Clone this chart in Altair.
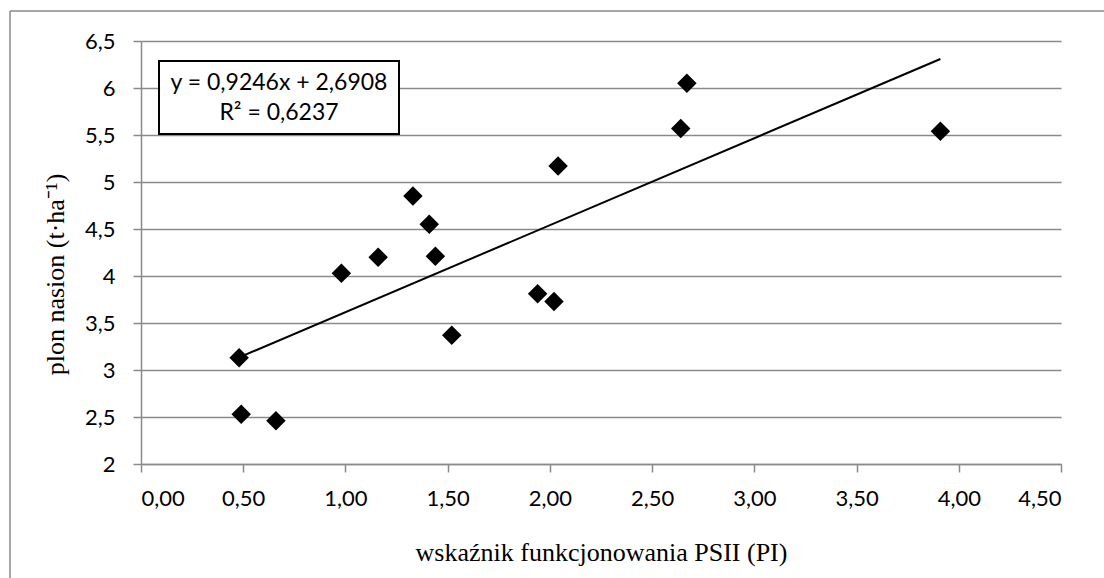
import altair as alt
import pandas as pd

# data
pi_values = [0.48, 0.49, 0.66, 0.98, 1.16, 1.33, 1.41, 1.44, 1.52, 1.94, 2.02, 2.04, 2.64, 2.67, 3.91]
yield_values = [3.13, 2.53, 2.46, 4.03, 4.20, 4.85, 4.55, 4.21, 3.37, 3.81, 3.73, 5.17, 5.57, 6.05, 5.54]
x_ticks = [0, 0.5, 1, 1.5, 2, 2.5, 3, 3.5, 4, 4.5]
y_ticks = [2, 2.5, 3, 3.5, 4, 4.5, 5, 5.5, 6, 6.5]
equation_lines = ["y = 0,9246x + 2,6908", "R² = 0,6237"]

df = pd.DataFrame({"x": pi_values, "y": yield_values})
one = pd.DataFrame({"a": [0]})

GRID = "#8a8a8a"
TICKFONT = "Lato"
SERIF = "Liberation Serif"

xs = alt.Scale(domain=[0, 4.5], nice=False, zero=False)
ys = alt.Scale(domain=[2, 6.5], nice=False, zero=False)

x_axis = alt.Axis(
    values=x_ticks,
    labelExpr="replace(format(datum.value, '.2f'), '.', ',')",
    grid=False,
    domainColor=GRID, domainWidth=1.5,
    tickColor=GRID, tickWidth=1.5, tickSize=8,
    labelFont=TICKFONT, labelFontSize=22, labelColor="black",
    labelPadding=16,
    title="wskaźnik funkcjonowania PSII (PI)",
    titleFont=SERIF, titleFontSize=26, titleFontWeight="normal", titleColor="black",
    titleY=96, titleBaseline="alphabetic",
)
y_axis = alt.Axis(
    values=y_ticks,
    labelExpr="replace(format(datum.value, '.1~f'), '.', ',')",
    grid=True, gridColor=GRID, gridWidth=1.5,
    domainColor=GRID, domainWidth=1.5,
    tickColor=GRID, tickWidth=1.5, tickSize=8,
    labelFont=TICKFONT, labelFontSize=22, labelColor="black",
    labelPadding=18,
    title="plon nasion (t·ha⁻¹)",
    titleFont=SERIF, titleFontSize=26, titleFontWeight="normal", titleColor="black",
    titleAngle=270, titleX=-86, titleY=233, titleAlign="center", titleBaseline="middle",
)

base = alt.Chart(df)

points = base.mark_point(shape="diamond", filled=True, color="black", size=380, opacity=1).encode(
    x=alt.X("x:Q", scale=xs, axis=x_axis),
    y=alt.Y("y:Q", scale=ys, axis=y_axis),
)

trend = base.transform_regression("x", "y", method="linear").mark_line(color="black", strokeWidth=2).encode(
    x=alt.X("x:Q", scale=xs),
    y=alt.Y("y:Q", scale=ys),
)

frame_left = alt.Chart(one).mark_rule(color=GRID, strokeWidth=1.5).encode(
    x=alt.value(-131), y=alt.value(-30), y2=alt.value(537)
)
frame_top = alt.Chart(one).mark_rule(color=GRID, strokeWidth=1.5).encode(
    x=alt.value(-131), x2=alt.value(963), y=alt.value(-30)
)

box = alt.Chart(one).mark_rect(fill="white", stroke="black", strokeWidth=2).encode(
    x=alt.value(18), x2=alt.value(258), y=alt.value(20), y2=alt.value(93)
)
eq1 = alt.Chart(one).mark_text(font=TICKFONT, fontSize=23, color="black", align="center", baseline="middle").encode(
    x=alt.value(138), y=alt.value(42), text=alt.value(equation_lines[0])
)
eq2 = alt.Chart(one).mark_text(font=TICKFONT, fontSize=23, color="black", align="center", baseline="middle").encode(
    x=alt.value(138), y=alt.value(72), text=alt.value(equation_lines[1])
)

chart = alt.layer(frame_left, frame_top, points, trend, box, eq1, eq2).properties(
    width=920, height=423,
    autosize=alt.AutoSizeParams(type="none"),
    padding={"left": 141, "top": 41, "right": 43, "bottom": 114},
    background="white",
).configure_view(stroke=None)

chart.save("out.html", embed_options={"renderer": "svg", "actions": False})
